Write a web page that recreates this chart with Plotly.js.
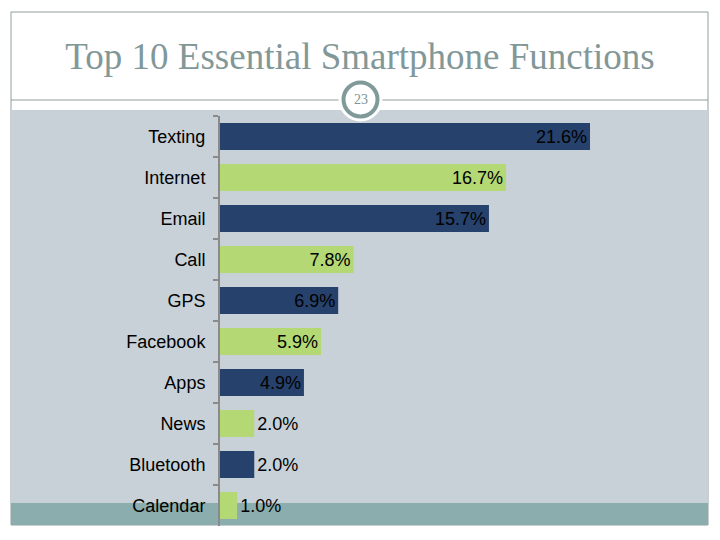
<!DOCTYPE html>
<html>
<head>
<meta charset="utf-8">
<script src="https://cdn.plot.ly/plotly-3.0.1.min.js"></script>
<style>html,body{margin:0;padding:0;background:#fff;}#chart{width:720px;height:540px;}</style>
</head>
<body>
<div id="chart"></div>
<script>
var categories = ["Texting","Internet","Email","Call","GPS","Facebook","Apps","News","Bluetooth","Calendar"];
var values = [21.6, 16.7, 15.7, 7.8, 6.9, 5.9, 4.9, 2.0, 2.0, 1.0];
var barColors = ["#26416c","#b4d873","#26416c","#b4d873","#26416c","#b4d873","#26416c","#b4d873","#26416c","#b4d873"];
var labelPositions = ["inside","inside","inside","inside","inside","inside","inside","outside","outside","outside"];
var titleText = "Top 10 Essential Smartphone Functions";
var slideNumber = "23";

var L = 220, R = 20, T = 116, B = 14, W = 720, H = 540;
var pw = W - L - R, ph = H - T - B;
function X(px){ return (px - L) / pw; }
function Y(py){ return (H - B - py) / ph; }

var trace = {
  type: "bar",
  orientation: "h",
  y: categories,
  x: values,
  marker: {color: barColors},
  texttemplate: "%{x:.1f}%",
  textposition: labelPositions,
  insidetextanchor: "end",
  textangle: 0,
  constraintext: "none",
  cliponaxis: false,
  textfont: {family: "Liberation Sans, Arial, sans-serif", size: 18, color: "#000"},
  insidetextfont: {family: "Liberation Sans, Arial, sans-serif", size: 18, color: "#000"},
  outsidetextfont: {family: "Liberation Sans, Arial, sans-serif", size: 18, color: "#000"},
  hoverinfo: "none"
};

var lineGray = "#8e9e9e";
var layout = {
  width: W, height: H,
  margin: {l: L, r: R, t: T, b: B, pad: 0},
  paper_bgcolor: "#ffffff",
  plot_bgcolor: "rgba(0,0,0,0)",
  showlegend: false,
  bargap: 0.34,
  xaxis: {range: [0, pw / 17.13], showgrid: false, zeroline: false, showticklabels: false, showline: false, ticks: "", fixedrange: true},
  yaxis: {autorange: "reversed", showgrid: false, zeroline: false, showline: true, linecolor: "#8a8a8a", linewidth: 2,
          ticks: "outside", tickson: "boundaries", ticklen: 5, tickwidth: 2, tickcolor: "#8a8a8a",
          ticklabelstandoff: 9,
          tickfont: {family: "Liberation Sans, Arial, sans-serif", size: 18, color: "#000"}},
  title: {text: titleText, x: 0.5, xanchor: "center", y: 1 - 56/540, yanchor: "middle", yref: "container",
          font: {family: "Liberation Serif, DejaVu Serif, serif", size: 37, color: "#829898"}},
  shapes: [
    {type: "rect", xref: "paper", yref: "paper", x0: X(11), x1: X(708), y0: Y(12), y1: Y(525), line: {color: lineGray, width: 1}, fillcolor: "rgba(0,0,0,0)", layer: "below"},
    {type: "rect", xref: "paper", yref: "paper", x0: X(11), x1: X(708), y0: Y(110), y1: Y(503), line: {width: 0}, fillcolor: "#c8d1d7", layer: "below"},
    {type: "rect", xref: "paper", yref: "paper", x0: X(11), x1: X(708), y0: Y(503), y1: Y(525), line: {width: 0}, fillcolor: "#8badad", layer: "below"},
    {type: "line", xref: "paper", yref: "paper", x0: X(11), x1: X(708), y0: Y(100), y1: Y(100), line: {color: lineGray, width: 1}, layer: "below"},
    {type: "circle", xref: "paper", yref: "paper", x0: X(360.5-22), x1: X(360.5+22), y0: Y(99.5-22), y1: Y(99.5+22), line: {width: 0}, fillcolor: "#ffffff", layer: "below"},
    {type: "circle", xref: "paper", yref: "paper", x0: X(360.5-17), x1: X(360.5+17), y0: Y(99.5-17), y1: Y(99.5+17), line: {color: "#809a99", width: 4}, fillcolor: "#ffffff", layer: "below"}
  ],
  annotations: [
    {text: slideNumber, xref: "paper", yref: "paper", x: X(360.5), y: Y(99.5), xanchor: "center", yanchor: "middle", showarrow: false,
     font: {family: "Liberation Serif, DejaVu Serif, serif", size: 14, color: "#7e9595"}}
  ]
};

Plotly.newPlot("chart", [trace], layout, {displayModeBar: false, staticPlot: true});
</script>
</body>
</html>
